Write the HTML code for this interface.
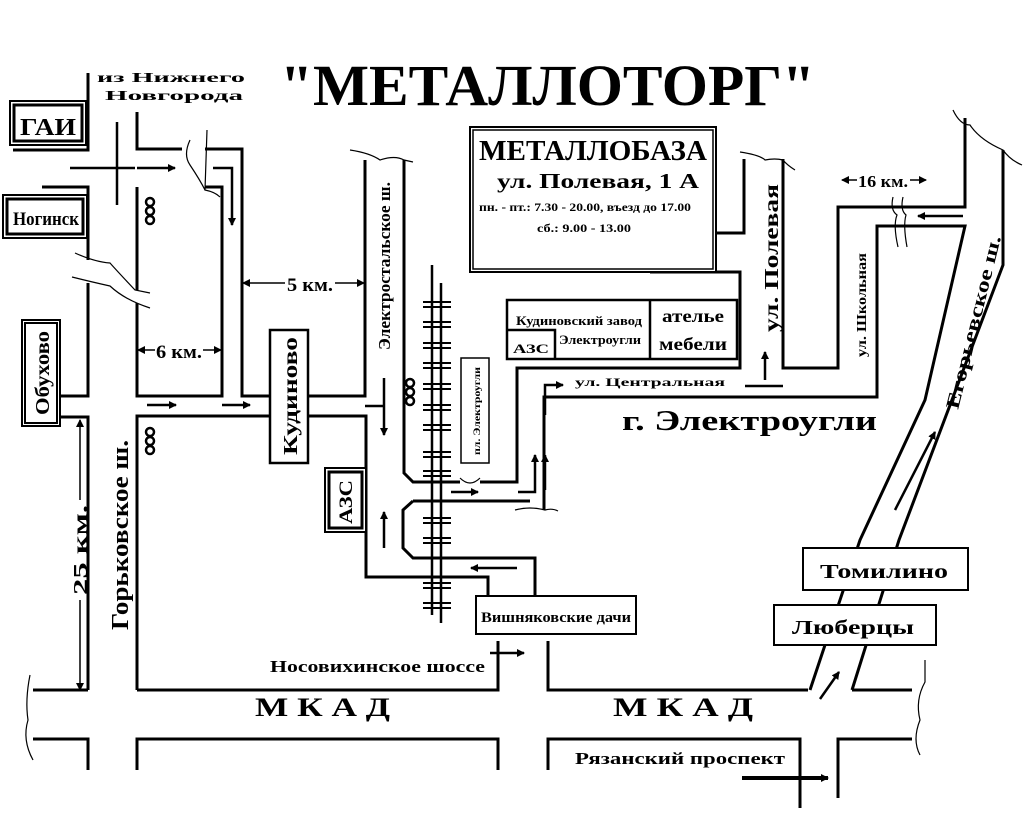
<!DOCTYPE html>
<html><head><meta charset="utf-8"><style>
html,body{margin:0;padding:0;background:#fff;}
svg{display:block;}
text{font-family:"Liberation Serif","DejaVu Serif",serif;font-weight:bold;fill:#000;}
</style></head><body>
<svg width="1024" height="822" viewBox="0 0 1024 822" xmlns="http://www.w3.org/2000/svg">
<defs>
<marker id="ah" markerWidth="8" markerHeight="8" refX="7" refY="4" orient="auto" markerUnits="userSpaceOnUse"><path d="M0,0 L8,4 L0,8 z" fill="#000"/></marker>
</defs>
<rect width="1024" height="822" fill="#fff"/>

<!-- Title -->
<text x="280" y="105" font-size="58" textLength="535" lengthAdjust="spacingAndGlyphs">"МЕТАЛЛОТОРГ"</text>
<text x="97" y="82" font-size="14" textLength="148" lengthAdjust="spacingAndGlyphs">из Нижнего</text>
<text x="105" y="100" font-size="14" textLength="138" lengthAdjust="spacingAndGlyphs">Новгорода</text>

<g fill="none" stroke="#000" stroke-width="3">
<!-- top left roads -->
<path d="M88,73 V150 H13"/>
<path d="M137,112 V149 H182"/>
<path d="M205,149 H242 V396 H270"/>
<path d="M308,396 H365 V160"/>
<path d="M137,187 V290 M137,303 V396 H222 V187 H205"/>
<path d="M42,187 H88 V260 M88,283 V396 H60"/>
<path d="M60,417 H88 V690"/>
<path d="M137,690 V416 H270"/>
<path d="M308,416 H366 V577 H488 V598"/>
<path d="M404,160 V473 L413,482 H460 M480,482 H517 V368 H740 V272 H650"/>
<path d="M650,233 H744 V159"/>
<path d="M783,159 V368 H838 V207 H965 V118"/>
<path d="M544,510 V397 H877 V226 H965 L925,400 L860,540 L810,690"/>
<path d="M1003,150 V265 L899,540 L852,690"/>
<path d="M413,501 H530 M413,501 L403,510 V548 L413,558 H535 V598"/>
<!-- MKAD -->
<path d="M33,690 H88 M137,690 H498 V641 M548,641 V690 H808 M852,690 H912"/>
<path d="M33,739 H88 V770 M137,770 V739 H498 V770 M548,770 V739 H800 V808 M838,798 V739 H912"/>
<!-- cross -->
<path d="M117,122 V205 M70,168 H135" stroke-width="2.5"/>
<!-- rails -->
<path d="M432,265 V615 M441,283 V623" stroke-width="2.5"/>
</g>
<!-- ties -->
<g stroke="#000" stroke-width="2">
<path d="M423,302H451M423,307H451M423,322H451M423,327H451M423,343H451M423,348H451M423,363H451M423,368H451M423,384H451M423,389H451M423,405H451M423,410H451M423,425H451M423,430H451M423,452H451M423,457H451M423,471H451M423,476H451M423,518H451M423,523H451M423,538H451M423,543H451M423,583H451M423,588H451M423,603H451M423,608H451"/>
</g>

<!-- arrows -->
<g stroke="#000" stroke-width="2.5" fill="none" marker-end="url(#ah)">
<path d="M137,168 H175"/>
<path d="M213,168 H232 V225"/>
<path d="M147,405 H176"/>
<path d="M222,405 H250"/>
<path d="M384,378 V435"/>
<path d="M451,492 H478"/>
<path d="M518,492 H535 V455"/>
<path d="M545,415 V385 H563"/>
<path d="M545,490 V455"/>
<path d="M384,548 V512"/>
<path d="M517,568 H471"/>
<path d="M707,253 H660"/>
<path d="M963,216 H918"/>
<path d="M765,380 V352"/>
<path d="M895,510 L935,432"/>
<path d="M820,699 L839,672"/>
<path d="M490,653 H524"/>
<path d="M742,778 H828" stroke-width="4"/>
</g>
<path d="M365,406 H384 M745,386 H783" stroke="#000" stroke-width="2.5"/>
<!-- distance arrows -->
<g stroke="#000" stroke-width="1.5" fill="none" marker-end="url(#ah)">
<path d="M285,283 H243"/><path d="M335,283 H364"/>
<path d="M155,350 H138"/><path d="M203,350 H221"/>
<path d="M857,180 H842"/><path d="M910,180 H926"/>
<path d="M80,500 V420"/><path d="M80,600 V690"/>
</g>
<text x="287" y="291" font-size="19" textLength="46" lengthAdjust="spacingAndGlyphs">5 км.</text>
<text x="156" y="358" font-size="19" textLength="46" lengthAdjust="spacingAndGlyphs">6 км.</text>
<text x="858" y="187" font-size="17" textLength="50" lengthAdjust="spacingAndGlyphs">16 км.</text>
<text transform="translate(87,595) rotate(-90)" font-size="20" textLength="90" lengthAdjust="spacingAndGlyphs">25 км.</text>
<text transform="translate(128,630) rotate(-90)" font-size="24" textLength="190" lengthAdjust="spacingAndGlyphs">Горьковское ш.</text>

<!-- traffic lights -->
<g fill="none" stroke="#000" stroke-width="2.5">
<circle cx="150" cy="202" r="4"/><circle cx="150" cy="211" r="4"/><circle cx="150" cy="220" r="4"/>
<circle cx="150" cy="432" r="4"/><circle cx="150" cy="441" r="4"/><circle cx="150" cy="450" r="4"/>
<circle cx="410" cy="383" r="4"/><circle cx="410" cy="392" r="4"/><circle cx="410" cy="401" r="4"/>
</g>

<!-- rivers / wiggles -->
<g fill="none" stroke="#000" stroke-width="1.2">
<path d="M75,253 Q95,262 110,263 Q118,272 135,290 L150,293"/>
<path d="M72,277 Q92,282 110,286 Q125,300 150,308"/>
<path d="M190,140 Q183,155 190,165 Q200,180 205,190"/>
<path d="M207,130 L205,190 Q215,192 220,197"/>
<path d="M350,150 Q370,153 380,160 Q395,155 404,160 L413,162"/>
<path d="M740,152 Q760,155 765,160 Q775,158 783,160 Q787,165 795,170"/>
<path d="M953,110 Q960,125 970,125 Q980,140 1003,150 Q1010,160 1022,165"/>
<path d="M893,197 Q890,210 897,215 Q893,225 898,247 M903,197 Q900,210 906,215 Q903,225 907,247"/>
<path d="M460,478 Q470,488 480,478"/>
<path d="M515,510 Q530,506 545,510 Q552,508 558,511"/>
<path d="M30,675 Q25,700 28,720 Q22,740 33,760"/>
<path d="M925,660 V682 Q915,700 920,720 Q912,740 920,755"/>
</g>

<!-- boxes -->
<g fill="#fff" stroke="#000">
<rect x="10" y="101" width="76" height="44" stroke-width="2"/>
<rect x="14" y="105" width="68" height="36" stroke-width="3"/>
<rect x="3" y="195" width="84" height="43" stroke-width="2"/>
<rect x="7" y="199" width="76" height="35" stroke-width="3"/>
<rect x="22" y="320" width="38" height="106" stroke-width="2"/>
<rect x="25" y="323" width="32" height="100" stroke-width="2"/>
<rect x="270" y="330" width="38" height="133" stroke-width="2.5"/>
<rect x="325" y="468" width="41" height="64" stroke-width="2"/>
<rect x="329" y="472" width="33" height="56" stroke-width="3"/>
<rect x="470" y="127" width="246" height="145" stroke-width="2"/>
<rect x="473" y="130" width="240" height="139" stroke-width="1.5"/>
<rect x="461" y="358" width="28" height="105" stroke-width="1.5"/>
<rect x="507" y="300" width="230" height="59" stroke-width="2.5"/>
<rect x="476" y="596" width="160" height="38" stroke-width="2"/>
<rect x="803" y="548" width="165" height="42" stroke-width="2"/>
<rect x="774" y="605" width="162" height="40" stroke-width="2"/>
</g>
<path d="M650,300 V359 M507,330 H555 V359" stroke="#000" stroke-width="2.5" fill="none"/>

<!-- labels -->
<text x="20" y="135" font-size="24" textLength="56" lengthAdjust="spacingAndGlyphs">ГАИ</text>
<text x="13" y="225" font-size="19" textLength="66" lengthAdjust="spacingAndGlyphs">Ногинск</text>
<text transform="translate(49,415) rotate(-90)" font-size="20" textLength="84" lengthAdjust="spacingAndGlyphs">Обухово</text>
<text transform="translate(297,455) rotate(-90)" font-size="20" textLength="118" lengthAdjust="spacingAndGlyphs">Кудиново</text>
<text transform="translate(352,524) rotate(-90)" font-size="19" textLength="44" lengthAdjust="spacingAndGlyphs">АЗС</text>
<text transform="translate(390,350) rotate(-90)" font-size="17" textLength="168" lengthAdjust="spacingAndGlyphs">Электростальское ш.</text>
<text transform="translate(480,455) rotate(-90)" font-size="9" textLength="88" lengthAdjust="spacingAndGlyphs">пл. Электроугли</text>
<text x="479" y="160" font-size="28" textLength="228" lengthAdjust="spacingAndGlyphs">МЕТАЛЛОБАЗА</text>
<text x="497" y="188" font-size="21" textLength="202" lengthAdjust="spacingAndGlyphs">ул. Полевая, 1 А</text>
<text x="479" y="211" font-size="12" textLength="212" lengthAdjust="spacingAndGlyphs">пн. - пт.: 7.30 - 20.00, въезд до 17.00</text>
<text x="537" y="232" font-size="12" textLength="94" lengthAdjust="spacingAndGlyphs">сб.: 9.00 - 13.00</text>
<text x="516" y="325" font-size="13" textLength="126" lengthAdjust="spacingAndGlyphs">Кудиновский завод</text>
<text x="513" y="353" font-size="13" textLength="36" lengthAdjust="spacingAndGlyphs">АЗС</text>
<text x="559" y="344" font-size="13" textLength="82" lengthAdjust="spacingAndGlyphs">Электроугли</text>
<text x="662" y="322" font-size="18" textLength="62" lengthAdjust="spacingAndGlyphs">ателье</text>
<text x="659" y="350" font-size="18" textLength="68" lengthAdjust="spacingAndGlyphs">мебели</text>
<text x="575" y="386" font-size="12" textLength="150" lengthAdjust="spacingAndGlyphs">ул. Центральная</text>
<text x="622" y="430" font-size="28" textLength="255" lengthAdjust="spacingAndGlyphs">г. Электроугли</text>
<text transform="translate(778,332) rotate(-90)" font-size="20" textLength="148" lengthAdjust="spacingAndGlyphs">ул. Полевая</text>
<text transform="translate(866,357) rotate(-90)" font-size="14" textLength="104" lengthAdjust="spacingAndGlyphs">ул. Школьная</text>
<text transform="translate(958,410) rotate(-76)" font-size="19" textLength="178" lengthAdjust="spacingAndGlyphs">Егорьевское ш.</text>
<text x="820" y="578" font-size="20" textLength="128" lengthAdjust="spacingAndGlyphs">Томилино</text>
<text x="792" y="634" font-size="20" textLength="122" lengthAdjust="spacingAndGlyphs">Люберцы</text>
<text x="481" y="622" font-size="15" textLength="150" lengthAdjust="spacingAndGlyphs">Вишняковские дачи</text>
<text x="270" y="672" font-size="17" textLength="215" lengthAdjust="spacingAndGlyphs">Носовихинское шоссе</text>
<text x="575" y="764" font-size="17" textLength="210" lengthAdjust="spacingAndGlyphs">Рязанский проспект</text>
<text x="255" y="716" font-size="26" textLength="135" lengthAdjust="spacingAndGlyphs">М К А Д</text>
<text x="613" y="716" font-size="26" textLength="140" lengthAdjust="spacingAndGlyphs">М К А Д</text>
</svg>
</body></html>
